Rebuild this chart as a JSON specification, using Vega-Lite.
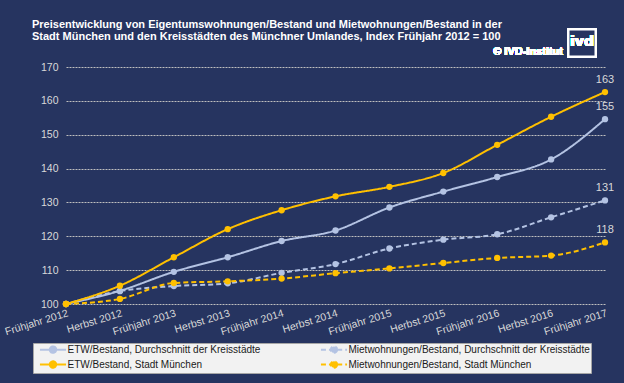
{
  "$schema": "https://vega.github.io/schema/vega-lite/v6.json",
  "autosize": {"type": "none"},
  "width": 539,
  "height": 237,
  "padding": {"top": 67, "left": 66, "right": 19, "bottom": 79},
  "background": "#263460",
  "config": {
    "view": {"stroke": null},
    "font": "Liberation Sans"
  },
  "title": {
    "text": ["Preisentwicklung von Eigentumswohnungen/Bestand und Mietwohnungen/Bestand in der", "Stadt München und den Kreisstädten des Münchner Umlandes,  Index Frühjahr 2012 = 100"],
    "anchor": "start",
    "frame": "group",
    "dx": -34,
    "offset": -17,
    "fontSize": 11,
    "fontWeight": "bold",
    "lineHeight": 12.5,
    "color": "#FFFFFF",
    "font": "Liberation Sans"
  },
  "data": {
    "values": [
      {"period": "Frühjahr 2012", "series": "ETW/Bestand, Durchschnitt der Kreisstädte", "value": 100},
      {"period": "Herbst 2012", "series": "ETW/Bestand, Durchschnitt der Kreisstädte", "value": 103.9},
      {"period": "Frühjahr 2013", "series": "ETW/Bestand, Durchschnitt der Kreisstädte", "value": 109.5},
      {"period": "Herbst 2013", "series": "ETW/Bestand, Durchschnitt der Kreisstädte", "value": 113.8},
      {"period": "Frühjahr 2014", "series": "ETW/Bestand, Durchschnitt der Kreisstädte", "value": 118.6},
      {"period": "Herbst 2014", "series": "ETW/Bestand, Durchschnitt der Kreisstädte", "value": 121.7},
      {"period": "Frühjahr 2015", "series": "ETW/Bestand, Durchschnitt der Kreisstädte", "value": 128.5},
      {"period": "Herbst 2015", "series": "ETW/Bestand, Durchschnitt der Kreisstädte", "value": 133.2},
      {"period": "Frühjahr 2016", "series": "ETW/Bestand, Durchschnitt der Kreisstädte", "value": 137.5},
      {"period": "Herbst 2016", "series": "ETW/Bestand, Durchschnitt der Kreisstädte", "value": 142.7},
      {"period": "Frühjahr 2017", "series": "ETW/Bestand, Durchschnitt der Kreisstädte", "value": 154.6},
      {"period": "Frühjahr 2012", "series": "Mietwohnungen/Bestand, Durchschnitt der Kreisstädte", "value": 100},
      {"period": "Herbst 2012", "series": "Mietwohnungen/Bestand, Durchschnitt der Kreisstädte", "value": 103.8},
      {"period": "Frühjahr 2013", "series": "Mietwohnungen/Bestand, Durchschnitt der Kreisstädte", "value": 105.3},
      {"period": "Herbst 2013", "series": "Mietwohnungen/Bestand, Durchschnitt der Kreisstädte", "value": 106.1},
      {"period": "Frühjahr 2014", "series": "Mietwohnungen/Bestand, Durchschnitt der Kreisstädte", "value": 109.2},
      {"period": "Herbst 2014", "series": "Mietwohnungen/Bestand, Durchschnitt der Kreisstädte", "value": 111.8},
      {"period": "Frühjahr 2015", "series": "Mietwohnungen/Bestand, Durchschnitt der Kreisstädte", "value": 116.4},
      {"period": "Herbst 2015", "series": "Mietwohnungen/Bestand, Durchschnitt der Kreisstädte", "value": 119.0},
      {"period": "Frühjahr 2016", "series": "Mietwohnungen/Bestand, Durchschnitt der Kreisstädte", "value": 120.6},
      {"period": "Herbst 2016", "series": "Mietwohnungen/Bestand, Durchschnitt der Kreisstädte", "value": 125.6},
      {"period": "Frühjahr 2017", "series": "Mietwohnungen/Bestand, Durchschnitt der Kreisstädte", "value": 130.6},
      {"period": "Frühjahr 2012", "series": "ETW/Bestand, Stadt München", "value": 100},
      {"period": "Herbst 2012", "series": "ETW/Bestand, Stadt München", "value": 105.4},
      {"period": "Frühjahr 2013", "series": "ETW/Bestand, Stadt München", "value": 113.8},
      {"period": "Herbst 2013", "series": "ETW/Bestand, Stadt München", "value": 122.1},
      {"period": "Frühjahr 2014", "series": "ETW/Bestand, Stadt München", "value": 127.7},
      {"period": "Herbst 2014", "series": "ETW/Bestand, Stadt München", "value": 131.8},
      {"period": "Frühjahr 2015", "series": "ETW/Bestand, Stadt München", "value": 134.6},
      {"period": "Herbst 2015", "series": "ETW/Bestand, Stadt München", "value": 138.7},
      {"period": "Frühjahr 2016", "series": "ETW/Bestand, Stadt München", "value": 147.0},
      {"period": "Herbst 2016", "series": "ETW/Bestand, Stadt München", "value": 155.3},
      {"period": "Frühjahr 2017", "series": "ETW/Bestand, Stadt München", "value": 162.6},
      {"period": "Frühjahr 2012", "series": "Mietwohnungen/Bestand, Stadt München", "value": 100},
      {"period": "Herbst 2012", "series": "Mietwohnungen/Bestand, Stadt München", "value": 101.5},
      {"period": "Frühjahr 2013", "series": "Mietwohnungen/Bestand, Stadt München", "value": 106.2},
      {"period": "Herbst 2013", "series": "Mietwohnungen/Bestand, Stadt München", "value": 106.7},
      {"period": "Frühjahr 2014", "series": "Mietwohnungen/Bestand, Stadt München", "value": 107.5},
      {"period": "Herbst 2014", "series": "Mietwohnungen/Bestand, Stadt München", "value": 109.1},
      {"period": "Frühjahr 2015", "series": "Mietwohnungen/Bestand, Stadt München", "value": 110.5},
      {"period": "Herbst 2015", "series": "Mietwohnungen/Bestand, Stadt München", "value": 112.1},
      {"period": "Frühjahr 2016", "series": "Mietwohnungen/Bestand, Stadt München", "value": 113.6},
      {"period": "Herbst 2016", "series": "Mietwohnungen/Bestand, Stadt München", "value": 114.3},
      {"period": "Frühjahr 2017", "series": "Mietwohnungen/Bestand, Stadt München", "value": 118.2}
    ]
  },
  "encoding": {
    "x": {
      "field": "period",
      "type": "nominal",
      "sort": null,
      "scale": {"type": "point", "padding": 0, "domain": ["Frühjahr 2012", "Herbst 2012", "Frühjahr 2013", "Herbst 2013", "Frühjahr 2014", "Herbst 2014", "Frühjahr 2015", "Herbst 2015", "Frühjahr 2016", "Herbst 2016", "Frühjahr 2017"]},
      "axis": {
        "title": null,
        "labelAngle": -17,
        "labelAlign": "right",
        "labelBaseline": "top",
        "labelPadding": 4,
        "labelOverlap": false,
        "labelBound": false,
        "ticks": false,
        "domain": false,
        "grid": false,
        "labelColor": "#D9D9D9",
        "labelFontSize": 10.5,
        "labelFont": "Liberation Sans"
      }
    },
    "y": {
      "field": "value",
      "type": "quantitative",
      "scale": {"domain": [100, 170], "nice": false, "zero": false},
      "axis": {
        "title": null,
        "values": [100, 110, 120, 130, 140, 150, 160, 170],
        "ticks": false,
        "domain": false,
        "labelPadding": 8,
        "labelColor": "#D9D9D9",
        "labelFontSize": 10.5,
        "labelFont": "Liberation Sans",
        "grid": true,
        "gridColor": "#BFBFBF",
        "gridDash": [2, 1],
        "gridWidth": 1
      }
    }
  },
  "layer": [
    {
      "mark": {"type": "line", "interpolate": "monotone", "strokeWidth": 2, "point": {"filled": true, "size": 40}},
      "encoding": {
        "color": {
          "field": "series",
          "type": "nominal",
          "scale": {
            "domain": ["ETW/Bestand, Durchschnitt der Kreisstädte", "Mietwohnungen/Bestand, Durchschnitt der Kreisstädte", "ETW/Bestand, Stadt München", "Mietwohnungen/Bestand, Stadt München"],
            "range": ["#B4C3E3", "#B4C3E3", "#FFC000", "#FFC000"]
          },
          "legend": {
            "title": null,
            "orient": "none",
            "legendX": -33,
            "legendY": 276,
            "columns": 2,
            "direction": "horizontal",
            "columnPadding": 54,
            "rowPadding": 0,
            "padding": 1,
            "fillColor": "#F2F2F2",
            "strokeColor": "#A6A6A6",
            "labelColor": "#1A1A1A",
            "labelFontSize": 10,
            "labelFont": "Liberation Sans",
            "labelLimit": 400,
            "labelOffset": 9,
            "symbolOffset": 13.5,
            "symbolType": "M-2.9,0L-0.71,0M0.71,0L2.9,0M0.71,0A0.71,0.71,0,1,1,-0.71,0A0.71,0.71,0,1,1,0.71,0Z",
            "symbolSize": 81,
            "symbolStrokeWidth": 2,
            "encode": {"symbols": {"update": {"fill": {"scale": "color", "field": "value"}}}}
          }
        },
        "strokeDash": {
          "field": "series",
          "type": "nominal",
          "scale": {
            "domain": ["ETW/Bestand, Durchschnitt der Kreisstädte", "Mietwohnungen/Bestand, Durchschnitt der Kreisstädte", "ETW/Bestand, Stadt München", "Mietwohnungen/Bestand, Stadt München"],
            "range": [[1, 0], [5, 3], [1, 0], [5, 3]]
          },
          "legend": {
            "title": null,
            "orient": "none",
            "legendX": -33,
            "legendY": 276,
            "columns": 2,
            "direction": "horizontal",
            "columnPadding": 54,
            "rowPadding": 0,
            "padding": 1,
            "fillColor": "#F2F2F2",
            "strokeColor": "#A6A6A6",
            "labelColor": "#1A1A1A",
            "labelFontSize": 10,
            "labelFont": "Liberation Sans",
            "labelLimit": 400,
            "labelOffset": 9,
            "symbolOffset": 13.5,
            "symbolType": "M-2.9,0L-0.71,0M0.71,0L2.9,0M0.71,0A0.71,0.71,0,1,1,-0.71,0A0.71,0.71,0,1,1,0.71,0Z",
            "symbolSize": 81,
            "symbolStrokeWidth": 2,
            "encode": {"symbols": {"update": {"fill": {"scale": "color", "field": "value"}}}}
          }
        }
      }
    },
    {
      "transform": [{"filter": "datum.period === 'Frühjahr 2017'"}],
      "mark": {"type": "text", "dy": -7, "baseline": "bottom", "align": "center", "color": "#D9D9D9", "fontSize": 11, "font": "Liberation Sans"},
      "encoding": {
        "text": {"field": "value", "type": "quantitative", "format": ".0f"}
      }
    },
    {
      "mark": {"type": "text", "text": "© IVD-Institut", "align": "right", "baseline": "middle", "dx": -42, "color": "#FFFFFF", "fontSize": 11, "fontWeight": "bold", "font": "Liberation Sans"},
      "encoding": {
        "x": {"datum": "Frühjahr 2017"},
        "y": {"datum": 174.4}
      }
    },
    {
      "mark": {"type": "point", "shape": "square", "size": 729, "filled": true, "fill": "#263460", "opacity": 1, "stroke": "#FFFFFF", "strokeWidth": 2},
      "encoding": {
        "x": {"datum": "Frühjahr 2017"},
        "y": {"datum": 177.1},
        "xOffset": {"value": -23}
      }
    },
    {
      "mark": {"type": "text", "text": "ivd", "align": "center", "baseline": "middle", "dx": -23, "dy": -1, "color": "#FFFFFF", "fontSize": 14, "fontWeight": "bold", "font": "DejaVu Sans"},
      "encoding": {
        "x": {"datum": "Frühjahr 2017"},
        "y": {"datum": 177.1}
      }
    }
  ]
}
